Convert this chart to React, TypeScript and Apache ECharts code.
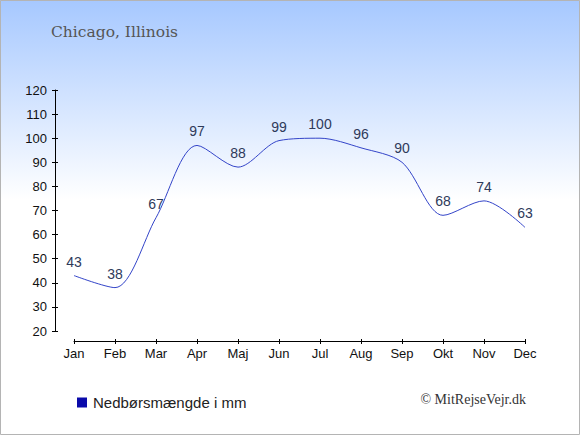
import React, { useEffect, useRef } from "react";
import * as echarts from "echarts";

const months = ["Jan", "Feb", "Mar", "Apr", "Maj", "Jun", "Jul", "Aug", "Sep", "Okt", "Nov", "Dec"];
const precipitation = [43, 38, 67, 97, 88, 99, 100, 96, 90, 68, 74, 63];
const seriesName = "Nedbørsmængde i mm";
const titleText = "Chicago, Illinois";
const creditText = "© MitRejseVejr.dk";

export default function App() {
  const ref = useRef<HTMLDivElement>(null);
  useEffect(() => {
    document.body.style.margin = "0";
    const chart = echarts.init(ref.current!, null, { renderer: "svg" });
    const yCommon = {
      type: "value",
      min: 20,
      max: 120,
      interval: 10,
      offset: 19,
      position: "left",
      splitLine: { show: false },
    };
    const xCommon = {
      type: "category",
      data: months,
      boundaryGap: false,
      offset: 10,
      position: "bottom",
    };
    chart.setOption({
      animation: false,
      backgroundColor: new echarts.graphic.LinearGradient(0, 0, 0, 1, [
        { offset: 0, color: "#a6c8ff" },
        { offset: 0.46, color: "#ffffff" },
        { offset: 1, color: "#ffffff" },
      ]),
      grid: { left: 74, right: 55, top: 90, bottom: 104, containLabel: false },
      legend: {
        left: 77,
        top: 395,
        padding: 0,
        icon: "rect",
        itemWidth: 10,
        itemHeight: 10,
        data: [{ name: seriesName, itemStyle: { color: "#0a0aaa", opacity: 1 } }],
        textStyle: { fontFamily: "Liberation Sans", fontSize: 15, color: "#222", padding: [0, 0, 0, 1] },
      },
      xAxis: [
        {
          ...xCommon,
          axisLine: { show: true, lineStyle: { color: "#000", width: 1 } },
          axisTick: { show: true, inside: false, length: 3, lineStyle: { color: "#000" } },
          axisLabel: { fontFamily: "Liberation Sans", fontSize: 13, color: "#111", margin: 6 },
        },
        {
          ...xCommon,
          axisLine: { show: false },
          axisTick: { show: true, inside: true, length: 2, lineStyle: { color: "#000" } },
          axisLabel: { show: false },
        },
      ],
      yAxis: [
        {
          ...yCommon,
          axisLine: { show: true, lineStyle: { color: "#000", width: 1 } },
          axisTick: { show: true, inside: false, length: 3, lineStyle: { color: "#000" } },
          axisLabel: { fontFamily: "Liberation Sans", fontSize: 13, color: "#111", margin: 8 },
        },
        {
          ...yCommon,
          axisLine: { show: false },
          axisTick: { show: true, inside: true, length: 3, lineStyle: { color: "#000" } },
          axisLabel: { show: false },
        },
      ],
      series: [
        {
          name: seriesName,
          type: "line",
          data: precipitation,
          smooth: 0.3,
          showSymbol: true,
          symbol: "circle",
          symbolSize: 0,
          itemStyle: { color: "#0a0aaa" },
          lineStyle: { color: "#3344c8", width: 1 },
          label: {
            show: true,
            position: "top",
            distance: 7,
            fontFamily: "Liberation Sans",
            fontSize: 14,
            color: "#2e3a5a",
          },
        },
      ],
      graphic: [
        {
          type: "rect",
          shape: { x: 0.5, y: 0.5, width: 579, height: 434 },
          style: { fill: "none", stroke: "#b4b4b4", lineWidth: 1 },
          silent: true,
          z: 100,
        },
        {
          type: "text",
          left: 51,
          top: 24,
          style: { text: titleText, fontFamily: "DejaVu Serif", fontSize: 15.5, fill: "#555" },
        },
        {
          type: "text",
          right: 54,
          top: 392,
          style: { text: creditText, fontFamily: "Liberation Serif", fontSize: 14, fill: "#333" },
        },
      ],
    });
    return () => chart.dispose();
  }, []);
  return <div ref={ref} style={{ width: 580, height: 435 }} />;
}
